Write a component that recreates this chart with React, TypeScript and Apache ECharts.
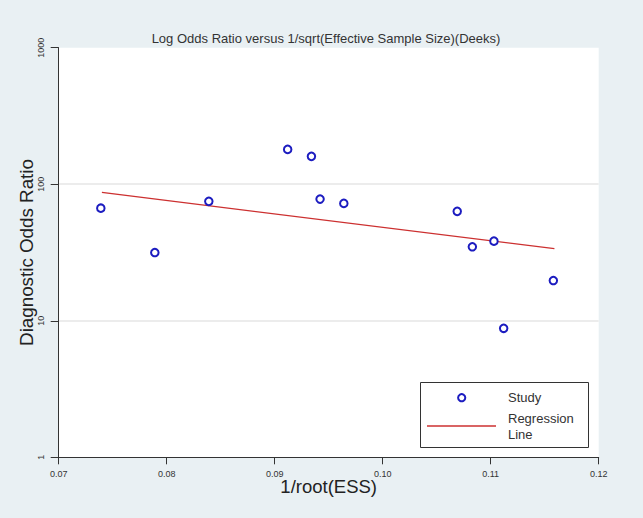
import React, { useEffect, useRef } from "react";
import * as echarts from "echarts";

const titleText = "Log Odds Ratio versus 1/sqrt(Effective Sample Size)(Deeks)";
const xAxisName = "1/root(ESS)";
const yAxisName = "Diagnostic Odds Ratio";

const studyX = [0.0739, 0.0789, 0.0839, 0.0912, 0.0934, 0.0942, 0.0964, 0.1069, 0.1083, 0.1103, 0.1112, 0.1158];
const studyDOR = [66.8, 31.6, 74.9, 180, 160, 77.8, 72.4, 63.3, 34.8, 38.3, 8.8, 19.7];

const regressionX = [0.074, 0.1159];
const regressionDOR = [87.1, 33.8];

const xTicks = { min: 0.07, max: 0.12, interval: 0.01 };
const yTicks = { min: 1, max: 1000 };

const legendLabels = ["Study", "Regression", "Line"];

const FONT = "'Liberation Sans', Arial, sans-serif";

export default function App() {
  const ref = useRef<HTMLDivElement>(null);
  useEffect(() => {
    if (!ref.current) return;
    const chart = echarts.init(ref.current, undefined, { renderer: "svg" });
    const option: any = {
      animation: false,
      backgroundColor: "#e9f0f3",
      textStyle: { fontFamily: FONT },
      title: {
        text: titleText,
        left: 321,
        textAlign: "center",
        top: 27,
        textStyle: { fontSize: 13, fontWeight: "normal", color: "#333", fontFamily: FONT },
      },
      grid: {
        left: 58.7,
        right: 44.3,
        top: 47.7,
        bottom: 60.7,
        show: true,
        backgroundColor: "#ffffff",
        borderWidth: 0,
      },
      xAxis: {
        type: "value",
        min: xTicks.min,
        max: xTicks.max,
        interval: xTicks.interval,
        name: xAxisName,
        nameLocation: "middle",
        nameGap: 20,
        nameMoveOverlap: false,
        nameTextStyle: { fontSize: 18.5, color: "#222", fontFamily: FONT },
        axisLine: { show: true, lineStyle: { color: "#333", width: 1 } },
        axisTick: { show: true, length: 7, lineStyle: { color: "#333" } },
        axisLabel: {
          fontSize: 9,
          color: "#333",
          margin: 12,
          formatter: (v: number) => v.toFixed(2),
        },
        splitLine: { show: false },
      },
      yAxis: {
        type: "log",
        logBase: 10,
        min: yTicks.min,
        max: yTicks.max,
        name: yAxisName,
        nameLocation: "middle",
        nameGap: 23,
        nameMoveOverlap: false,
        nameTextStyle: { fontSize: 18.8, color: "#222", fontFamily: FONT },
        axisLine: { show: true, lineStyle: { color: "#333", width: 1 } },
        axisTick: { show: true, length: 8, lineStyle: { color: "#333" } },
        axisLabel: {
          fontSize: 9,
          color: "#333",
          rotate: 90,
          margin: 13,
          formatter: (v: number) => String(Math.round(v)),
        },
        splitLine: {
          show: true,
          lineStyle: { color: ["transparent", "#ececec", "#ececec", "transparent"], width: 2 },
        },
      },
      series: [
        {
          name: "Study",
          type: "scatter",
          symbol: "emptyCircle",
          symbolSize: 7.5,
          itemStyle: { color: "#1c1cc0", borderWidth: 2, opacity: 1 },
          data: studyX.map((x, i) => [x, studyDOR[i]]),
          z: 3,
        },
        {
          name: "Regression Line",
          type: "line",
          symbol: "none",
          lineStyle: { color: "#cc3030", width: 1.2 },
          data: regressionX.map((x, i) => [x, regressionDOR[i]]),
          z: 2,
        },
      ],
      graphic: [
        {
          type: "group",
          left: 420,
          top: 382,
          children: [
            {
              type: "rect",
              shape: { x: 0.5, y: 0.5, width: 168, height: 65 },
              style: { fill: "#ffffff", stroke: "#333", lineWidth: 1 },
            },
            {
              type: "circle",
              shape: { cx: 41.7, cy: 15.7, r: 3.6 },
              style: { fill: "#ffffff", stroke: "#1c1cc0", lineWidth: 2 },
            },
            {
              type: "line",
              shape: { x1: 7, y1: 44, x2: 76, y2: 44 },
              style: { stroke: "#cc3030", lineWidth: 1.3 },
            },
            {
              type: "text",
              x: 88,
              y: 15.7,
              style: { text: legendLabels[0], fontSize: 13, fill: "#333", verticalAlign: "middle", fontFamily: FONT },
            },
            {
              type: "text",
              x: 88,
              y: 36.3,
              style: { text: legendLabels[1], fontSize: 13, fill: "#333", verticalAlign: "middle", fontFamily: FONT },
            },
            {
              type: "text",
              x: 88,
              y: 52.3,
              style: { text: legendLabels[2], fontSize: 13, fill: "#333", verticalAlign: "middle", fontFamily: FONT },
            },
          ],
        },
      ],
    };
    chart.setOption(option);
    return () => chart.dispose();
  }, []);
  return (
    <div
      ref={ref}
      style={{ position: "absolute", left: 0, top: 0, width: 643, height: 518 }}
    />
  );
}
